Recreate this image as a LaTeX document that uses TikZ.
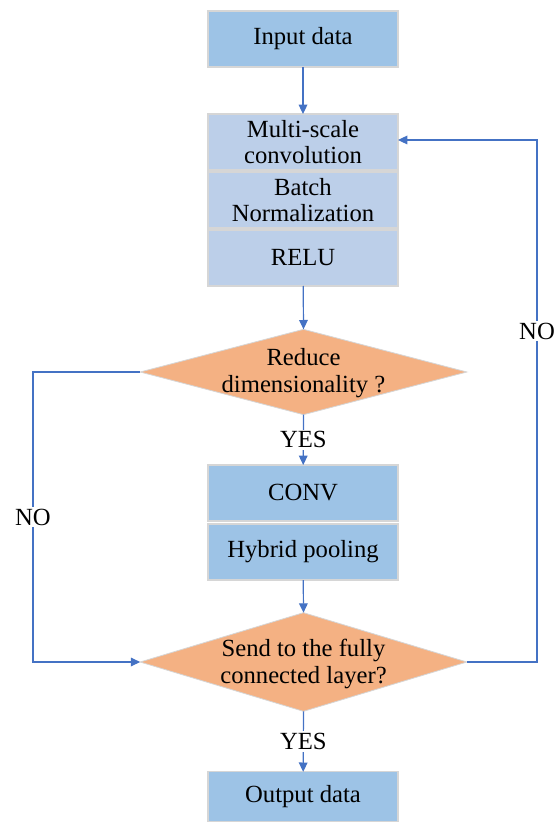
\documentclass[tikz,border=0pt]{standalone}
\usepackage{fontspec}
\setmainfont{Liberation Serif}
\usetikzlibrary{shapes.geometric,arrows.meta}
\definecolor{boxblue}{HTML}{9DC3E6}
\definecolor{boxlight}{HTML}{BCCFE9}
\definecolor{decision}{HTML}{F4B183}
\definecolor{flow}{HTML}{4472C4}
\definecolor{rim}{HTML}{D6D6D6}
\tikzset{
  txt/.style={font=\fontsize{18.5}{19.8}\selectfont, align=center},
  stage/.style={txt, rectangle, draw=rim, line width=0.8pt, inner sep=0pt, outer sep=0pt,
                minimum width=142.5pt, minimum height=42pt},
  darkstage/.style={stage, fill=boxblue},
  lightstage/.style={stage, fill=boxlight},
  choice/.style={diamond, draw=rim, line width=0.6pt, fill=decision, inner sep=0pt,
                 outer sep=0pt, minimum width=245pt},
  flowline/.style={draw=flow, line width=0.9pt},
  arr/.style={flowline, -{Triangle[length=7pt,width=6.5pt]}},
  tag/.style={txt, fill=white, inner sep=1.5pt}
}
\begin{document}
\begin{tikzpicture}[x=0.75pt,y=-0.75pt]
\useasboundingbox (0,0) rectangle (555,823);

% processing stages
\node[darkstage]  (in)    at (303,39)  {Input data};
\node[lightstage] (msc)   at (303,142) {Multi-scale\\convolution};
\node[lightstage] (bn)    at (303,200) {Batch\\Normalization};
\node[lightstage] (relu)  at (303,258) {RELU};
\node[darkstage]  (conv)  at (303,493) {CONV};
\node[darkstage]  (pool)  at (303,552) {Hybrid pooling};
\node[darkstage, minimum height=37pt] (out) at (303,796.5) {Output data};

% decisions: the diamond outline and its question
\node[choice, minimum height=64pt] (dim) at (303.5,372) {};
\node[txt] (dimq) at (303.5,373) {Reduce\\dimensionality ?};
\node[choice, minimum height=74pt] (fc)  at (303.5,662) {};
\node[txt] (fcq) at (303.5,664) {Send to the fully\\connected layer?};

% main flow
\draw[arr] (in) -- (msc);
\draw[arr] (relu) -- (dim.north);
\draw[arr] (dim.south) -- node[tag]{YES} (conv);
\draw[arr] (pool) -- (fc.north);
\draw[arr] (fc.south) -- node[tag]{YES} (out);

% skip the reduction branch
\coordinate (l1) at (33,372);
\coordinate (l2) at (33,662);
\draw[arr] (dim.west) -- (l1) -- node[tag]{NO} (l2) -- (fc.west);

% loop back to the feature extraction block
\coordinate (r1) at (537,662);
\coordinate (r2) at (537,140);
\draw[arr] (fc.east) -- (r1) -- (r2) -- (msc.east |- r2);
\node[tag] (nolabel) at (537,331) {NO};
\end{tikzpicture}
\end{document}
